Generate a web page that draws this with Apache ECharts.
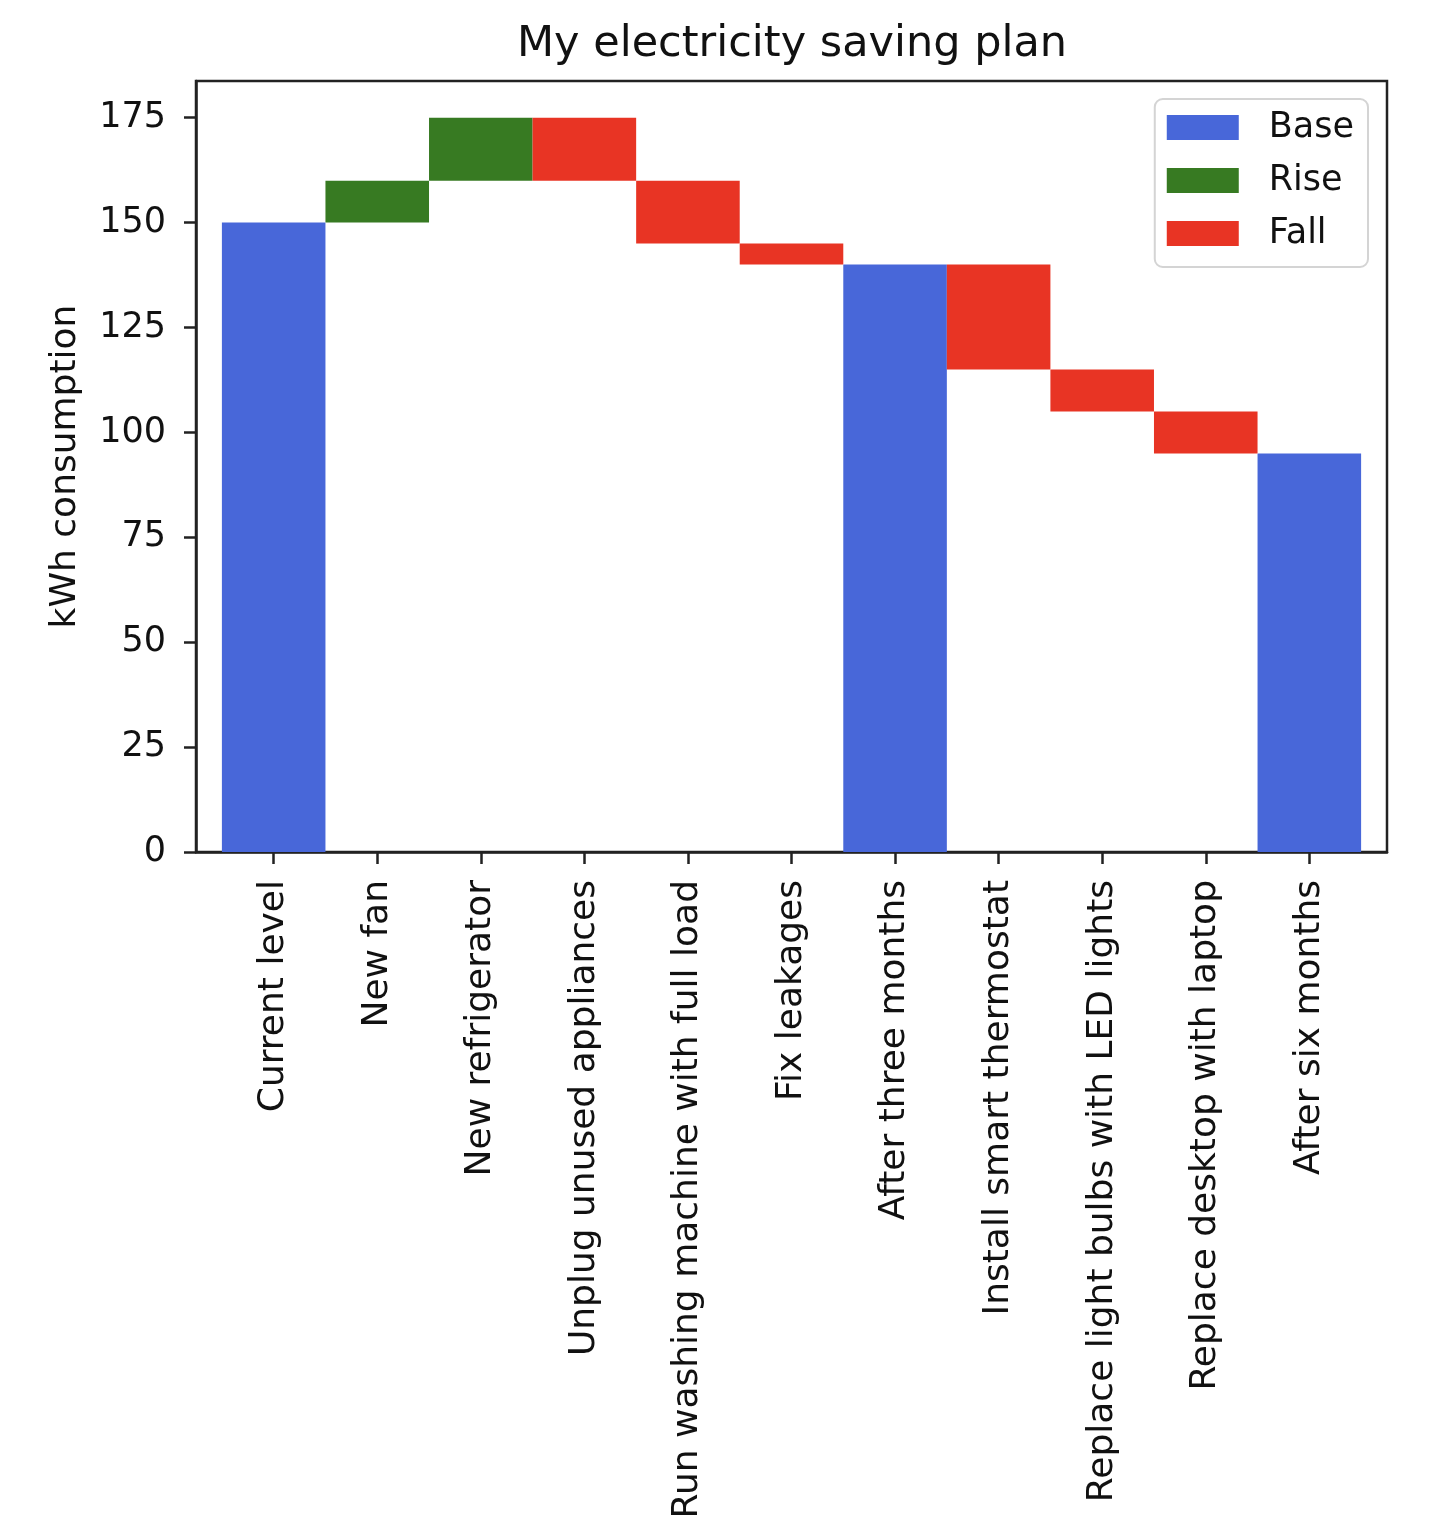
<!DOCTYPE html>
<html>
<head>
<meta charset="utf-8">
<script src="https://cdn.jsdelivr.net/npm/echarts@6/dist/echarts.min.js"></script>
<style>
  html, body { margin: 0; padding: 0; background: #fff; }
  #chart { width: 1446px; height: 1534px; }
</style>
</head>
<body>
<div id="chart"></div>
<script>
const categories = [
  'Current level', 'New fan', 'New refrigerator', 'Unplug unused appliances',
  'Run washing machine with full load', 'Fix leakages', 'After three months',
  'Install smart thermostat', 'Replace light bulbs with LED lights',
  'Replace desktop with laptop', 'After six months'
];
const barKind = ['Base', 'Rise', 'Rise', 'Fall', 'Fall', 'Fall', 'Base', 'Fall', 'Fall', 'Fall', 'Base'];
const barLow  = [0, 150, 160, 160, 145, 140, 0, 115, 105, 95, 0];
const barHigh = [150, 160, 175, 175, 160, 145, 140, 140, 115, 105, 95];
const kinds = ['Base', 'Rise', 'Fall'];
const kindColors = { Base: '#4867d9', Rise: '#377a22', Fall: '#e83424' };
const yTicks = [0, 25, 50, 75, 100, 125, 150, 175];
const xTicks = categories.map((c, i) => i);

const FONT = 'DejaVu Sans';
const TXT = '#111';

function renderBar(params, api) {
  const x = api.value(0);
  const p0 = api.coord([x - 0.5, api.value(1)]);
  const p1 = api.coord([x + 0.5, api.value(2)]);
  return {
    type: 'rect',
    shape: { x: p0[0], y: p1[1], width: p1[0] - p0[0], height: p0[1] - p1[1] },
    style: api.style()
  };
}

const series = kinds.map(k => ({
  name: k,
  type: 'custom',
  renderItem: renderBar,
  encode: { x: 0, y: [1, 2] },
  itemStyle: { color: kindColors[k] },
  data: categories.map((c, i) => [i, barLow[i], barHigh[i]]).filter((d, i) => barKind[i] === k)
}));

const chart = echarts.init(document.getElementById('chart'), null, { renderer: 'canvas' });
chart.setOption({
  animation: false,
  backgroundColor: '#fff',
  textStyle: { fontFamily: FONT },
  title: {
    text: 'My electricity saving plan',
    left: 787,
    textAlign: 'center',
    top: 18,
    textStyle: { fontFamily: FONT, fontSize: 43, fontWeight: 'normal', color: TXT }
  },
  legend: {
    orient: 'vertical',
    right: 78,
    top: 99,
    padding: [11, 14, 16, 12],
    itemWidth: 72,
    itemHeight: 25,
    itemGap: 18,
    icon: 'rect',
    borderColor: '#d4d4d4',
    borderWidth: 2,
    borderRadius: 8,
    backgroundColor: 'rgba(255,255,255,0.8)',
    textStyle: { fontFamily: FONT, fontSize: 35, color: TXT, lineHeight: 35, padding: [0, 0, 0, 25] },
    data: kinds
  },
  grid: {
    left: 196, right: 59, top: 81, bottom: 682,
    show: true, borderColor: '#222', borderWidth: 2.5, backgroundColor: 'transparent',
    containLabel: false
  },
  xAxis: {
    type: 'value',
    min: -0.75,
    max: 10.75,
    splitLine: { show: false },
    axisLine: { show: true, onZero: false, lineStyle: { color: '#222', width: 2.5 } },
    axisTick: { show: true, length: 12, lineStyle: { color: '#222', width: 2.5 }, customValues: xTicks },
    axisLabel: {
      rotate: 90,
      margin: 28,
      fontFamily: FONT,
      fontSize: 36,
      color: TXT,
      customValues: xTicks,
      formatter: v => categories[Math.round(v)] || ''
    }
  },
  yAxis: {
    type: 'value',
    min: 0,
    max: 183.75,
    name: 'kWh consumption',
    nameLocation: 'middle',
    nameGap: 112,
    nameTextStyle: { fontFamily: FONT, fontSize: 36, color: TXT },
    splitLine: { show: false },
    axisLine: { show: true, onZero: false, lineStyle: { color: '#222', width: 2.5 } },
    axisTick: { show: true, length: 12, lineStyle: { color: '#222', width: 2.5 }, customValues: yTicks },
    axisLabel: {
      margin: 30,
      fontFamily: FONT,
      fontSize: 35,
      color: TXT,
      customValues: yTicks
    }
  },
  series: series
});
</script>
</body>
</html>
